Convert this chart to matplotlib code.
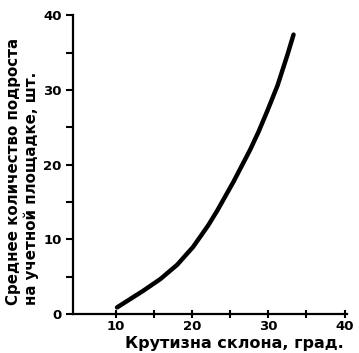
import numpy as np
import matplotlib.pyplot as plt

# slope steepness (deg) vs mean number of young growth per plot
slope_deg = [10.1, 11.8, 13.5, 15.8, 18.0, 20.1, 22.1, 23.3, 25.4, 27.6,
             28.7, 29.9, 31.2, 32.5, 33.3]
young_growth = [0.9, 2.0, 3.1, 4.7, 6.6, 9.0, 11.9, 13.9, 17.7, 22.0,
                24.4, 27.3, 30.6, 34.7, 37.4]

x_ticks = [10, 20, 30, 40]
y_ticks = [0, 10, 20, 30, 40]

plt.rcParams['font.family'] = ['DejaVu Sans']
fig = plt.figure(figsize=(3.59, 3.53), dpi=100)
ax = fig.add_axes([0.203, 0.110, 0.763, 0.847])

ax.plot(slope_deg, young_growth, color='black', lw=3.2,
        solid_capstyle='round', solid_joinstyle='round')

ax.set_xlim(4.3, 40.3)
ax.set_ylim(0, 40)
ax.spines['top'].set_visible(False)
ax.spines['right'].set_visible(False)
ax.spines['left'].set_linewidth(1.6)
ax.spines['bottom'].set_linewidth(1.6)

ax.set_xticks(x_ticks)
ax.set_yticks(y_ticks)
ax.set_xticks([15, 25, 35], minor=True)
ax.set_yticks([5, 15, 25, 35], minor=True)
ax.tick_params(axis='x', which='both', direction='inout', length=6, width=1.5,
               labelsize=9.5, pad=1.5)
ax.tick_params(axis='y', which='both', direction='out', length=5, width=1.5,
               labelsize=9.5, pad=3)
for lbl in ax.get_xticklabels() + ax.get_yticklabels():
    lbl.set_fontweight('bold')

fig.text(0.348, 0.026, 'Крутизна склона, град.', fontsize=11.5,
         fontweight='bold', ha='left', va='center')
fig.text(0.063, 0.136, 'Среднее количество подроста\nна учетной площадке, шт.',
         fontsize=10.8, fontweight='bold', rotation=90, ha='center', va='bottom',
         multialignment='left', linespacing=1.2)

fig.savefig('out.png', dpi=100)
